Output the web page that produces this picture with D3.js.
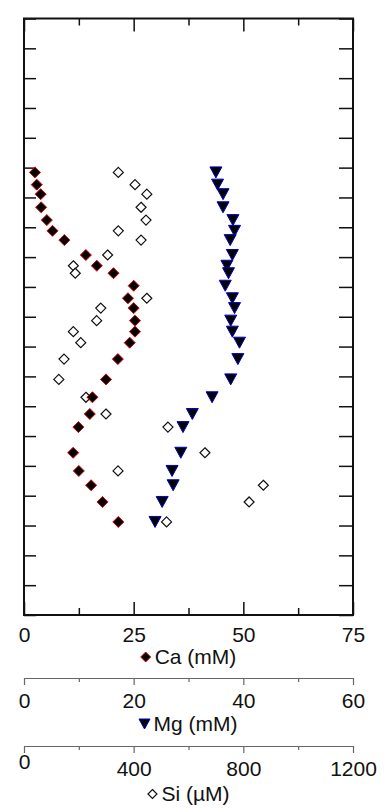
<!DOCTYPE html>
<html>
<head>
<meta charset="utf-8">
<script src="https://cdn.jsdelivr.net/npm/d3@7"></script>
<style>
  body { margin: 0; background: #fff; }
  svg { display: block; font-family: "Liberation Sans", Arial, sans-serif; }
</style>
</head>
<body>
<div id="chart"></div>
<script>
// depth profile, three species on one depth scale (depth axis unlabeled)
const depth = [51.6, 55.7, 58.9, 63.3, 67.6, 71.2, 74.3, 79.3, 82.9, 85.4, 89.6, 93.8, 97.1,
               101.3, 105.0, 108.7, 114.2, 121.0, 127.0, 132.6, 137.0, 145.6, 151.7, 156.5, 162.1, 168.8];
const ca = [2.5, 2.9, 3.8, 3.9, 5.2, 6.5, 9.2, 14.1, 16.6, 20.4, 25.0, 23.7, 25.0,
            25.3, 25.3, 24.1, 21.4, 18.7, 15.6, 15.0, 12.4, 11.2, 12.5, 15.3, 17.9, 21.5];
const mg = [35.0, 35.3, 36.3, 36.3, 38.1, 38.4, 37.6, 38.0, 37.0, 37.3, 36.7, 38.0, 38.4,
            37.7, 38.0, 39.3, 39.0, 37.7, 34.3, 30.7, 29.0, 28.6, 27.0, 27.2, 25.2, 23.9];
const si = [344, 405, 448, 427, 445, 344, 427, 305, 180, 187, null, 448, 280,
            265, 180, 207, 146, 127, 226, 299, 525, 660, 343, 873, 821, 520];

const caTicks = [0, 25, 50, 75], caMinor = [12.5, 37.5, 62.5];
const mgTicks = [0, 20, 40, 60], mgMinor = [10, 30, 50];
const siTicks = [0, 400, 800, 1200], siMinor = [200, 600, 1000];
const depthTicks = d3.range(0, 201, 10);

const W = 384, H = 808;
const box = {left: 24, right: 353, top: 18.5, bottom: 615};
const fs = 21;

const svg = d3.select("#chart").append("svg")
    .attr("width", W).attr("height", H);

const x = d3.scaleLinear().domain([0, 75]).range([box.left, box.right]);
const xMg = d3.scaleLinear().domain([0, 60]).range([box.left, box.right]);
const xSi = d3.scaleLinear().domain([0, 1200]).range([box.left, box.right]);
const y = d3.scaleLinear().domain([0, 200]).range([box.top, box.bottom]);

// ticks inside the frame
function inner(g, axis) {
    g.call(axis);
    g.select(".domain").remove();
    g.selectAll(".tick line").attr("stroke", "#111").attr("stroke-width", 1.5);
}
svg.append("g").attr("transform", `translate(0,${box.bottom})`)
    .call(g => inner(g, d3.axisBottom(x).tickValues(caMinor).tickSize(-7).tickFormat("")));
svg.append("g").attr("transform", `translate(0,${box.top})`)
    .call(g => inner(g, d3.axisTop(x).tickValues(caMinor).tickSize(-7).tickFormat("")));
svg.append("g").attr("transform", `translate(0,${box.top})`)
    .call(g => inner(g, d3.axisTop(x).tickValues(caTicks).tickSize(-13).tickFormat("")));
svg.append("g").attr("transform", `translate(${box.left},0)`)
    .call(g => inner(g, d3.axisLeft(y).tickValues(depthTicks).tickSize(-12).tickFormat("")));
svg.append("g").attr("transform", `translate(${box.right},0)`)
    .call(g => inner(g, d3.axisRight(y).tickValues(depthTicks).tickSize(-14).tickFormat("")));

const caAxis = svg.append("g").attr("transform", `translate(0,${box.bottom})`)
    .call(g => inner(g, d3.axisBottom(x).tickValues(caTicks).tickSize(-13).tickPadding(12)));
caAxis.selectAll("text").attr("font-size", fs).attr("fill", "#111");

svg.append("rect")
    .attr("x", box.left).attr("y", box.top)
    .attr("width", box.right - box.left).attr("height", box.bottom - box.top)
    .attr("fill", "none").attr("stroke", "#111").attr("stroke-width", 2);

// extra scales below
function outerAxis(scale, ticks, minor, yPos) {
    const g = svg.append("g").attr("transform", `translate(0,${yPos})`);
    g.call(d3.axisBottom(scale).tickValues(ticks).tickFormat(d3.format("d"))
        .tickSize(7).tickSizeOuter(0).tickPadding(8));
    g.append("g").call(d3.axisBottom(scale).tickValues(minor).tickSize(4).tickFormat(""))
        .select(".domain").remove();
    g.selectAll("path, line").attr("stroke", "#666").attr("stroke-width", 1.2);
    g.selectAll("text").attr("font-size", fs).attr("fill", "#111");
    return g;
}
outerAxis(xMg, mgTicks, mgMinor, 678);
const siAxis = outerAxis(xSi, siTicks, siMinor, 746);
siAxis.selectAll(".tick text").filter(d => d === 0).attr("y", 8);

// markers
const diamond = r => `M0,${-r}L${r},0L0,${r}L${-r},0Z`;
const triDown = (w, h) => `M${-w / 2},${-h / 2}L${w / 2},${-h / 2}L0,${h / 2}Z`;

const siPts = depth.map((d, i) => ({ d, v: si[i] })).filter(p => p.v != null);
svg.append("g").selectAll("path").data(siPts).join("path")
    .attr("d", diamond(5))
    .attr("transform", p => `translate(${xSi(p.v)},${y(p.d)})`)
    .attr("fill", "#fff").attr("stroke", "#111").attr("stroke-width", 1.2);

svg.append("g").selectAll("path").data(depth).join("path")
    .attr("d", diamond(5.5))
    .attr("transform", (d, i) => `translate(${x(ca[i])},${y(d)})`)
    .attr("fill", "#000").attr("stroke", "#e00000").attr("stroke-width", 1);

svg.append("g").selectAll("path").data(depth).join("path")
    .attr("d", triDown(12, 11))
    .attr("transform", (d, i) => `translate(${xMg(mg[i])},${y(d)})`)
    .attr("fill", "#000").attr("stroke", "#0000cc").attr("stroke-width", 1);

// axis titles with their marker
function title(label, yBase, marker) {
    const g = svg.append("g");
    const t = g.append("text").attr("y", yBase).attr("font-size", fs).attr("fill", "#111").text(label);
    const m = g.append("path");
    marker(m);
    const w = t.node().getComputedTextLength();
    const total = w + 14;
    const x0 = (box.left + box.right) / 2 - total / 2;
    m.attr("transform", `translate(${x0 + 5},${yBase - 7})`);
    t.attr("x", x0 + 14);
}
title("Ca (mM)", 664, m => m.attr("d", diamond(5)).attr("fill", "#000").attr("stroke", "#e00000"));
title("Mg (mM)", 731, m => m.attr("d", triDown(11, 10)).attr("fill", "#000").attr("stroke", "#0000cc"));
title("Si (\u00b5M)", 801, m => m.attr("d", diamond(4.5)).attr("fill", "#fff").attr("stroke", "#111").attr("stroke-width", 1.2));
</script>
</body>
</html>
